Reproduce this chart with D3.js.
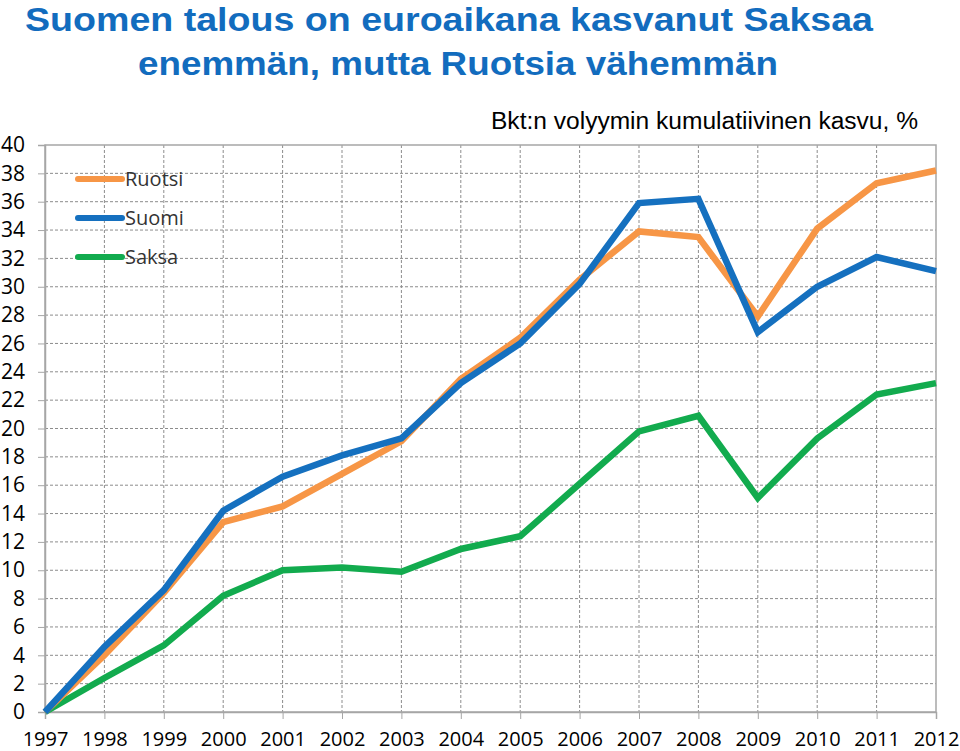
<!DOCTYPE html>
<html lang="fi">
<head>
<meta charset="utf-8">
<title>Bkt:n volyymin kumulatiivinen kasvu</title>
<script src="https://d3js.org/d3.v7.min.js"></script>
<style>
    body { margin: 0; background: #fff; }
</style>
</head>
<body>
<div id="chart"></div>
<script>
var years = [1997, 1998, 1999, 2000, 2001, 2002, 2003, 2004, 2005, 2006, 2007, 2008, 2009, 2010, 2011, 2012];
var ruotsi = [0, 4.0, 8.4, 13.4, 14.5, 16.8, 19.1, 23.5, 26.4, 30.5, 33.9, 33.5, 27.9, 34.1, 37.3, 38.2];
var suomi = [0, 4.6, 8.6, 14.2, 16.6, 18.1, 19.3, 23.2, 26.0, 30.2, 35.9, 36.2, 26.8, 30.0, 32.1, 31.1];
var saksa = [0, 2.4, 4.7, 8.2, 10.0, 10.2, 9.9, 11.5, 12.4, 16.1, 19.8, 20.9, 15.1, 19.3, 22.4, 23.2];
var yTicks = d3.range(0, 41, 2);

var seriesNames = ["Ruotsi", "Suomi", "Saksa"];
var seriesColors = ["#F79646", "#1570BF", "#12AB4E"];
var seriesData = [ruotsi, suomi, saksa];

var width = 960, height = 751;
var margin = {top: 145, right: 24, bottom: 39, left: 45};
var w = width - margin.left - margin.right,
    h = height - margin.top - margin.bottom;

var svg = d3.select("#chart")
    .append("svg")
    .attr("width", width)
    .attr("height", height);

// title, two lines stretched to the width they have in the original
var title = svg.append("g")
    .attr("fill", "#126CBE")
    .style("font-family", "'Liberation Sans', Arial, sans-serif")
    .style("font-weight", "bold")
    .style("font-size", "34px");
title.append("text")
    .attr("x", 25).attr("y", 31)
    .attr("textLength", 848)
    .attr("lengthAdjust", "spacingAndGlyphs")
    .text("Suomen talous on euroaikana kasvanut Saksaa");
title.append("text")
    .attr("x", 138).attr("y", 75)
    .attr("textLength", 640)
    .attr("lengthAdjust", "spacingAndGlyphs")
    .text("enemmän, mutta Ruotsia vähemmän");

svg.append("text")
    .attr("x", 491)
    .attr("y", 129)
    .attr("textLength", 427)
    .attr("lengthAdjust", "spacingAndGlyphs")
    .attr("fill", "#000")
    .style("font-family", "'Liberation Sans', Arial, sans-serif")
    .style("font-size", "23px")
    .text("Bkt:n volyymin kumulatiivinen kasvu, %");

var g = svg.append("g")
    .attr("transform", "translate(" + margin.left + "," + margin.top + ")");

var x = d3.scalePoint()
    .domain(years)
    .range([0, w]);

var y = d3.scaleLinear()
    .domain([0, 40])
    .range([h, 0]);

// gridlines
g.append("g")
    .selectAll("line")
    .data(yTicks.filter(function(d) { return d > 0 && d < 40; }))
    .enter()
    .append("line")
    .attr("x1", 0)
    .attr("x2", w)
    .attr("y1", function(d) { return y(d); })
    .attr("y2", function(d) { return y(d); })
    .attr("stroke", "#8c8c8c")
    .attr("stroke-dasharray", "3,2");

g.append("g")
    .selectAll("line")
    .data(years.slice(1, -1))
    .enter()
    .append("line")
    .attr("x1", function(d) { return x(d); })
    .attr("x2", function(d) { return x(d); })
    .attr("y1", 0)
    .attr("y2", h)
    .attr("stroke", "#8c8c8c")
    .attr("stroke-dasharray", "3,2");

// frame
g.append("rect")
    .attr("width", w)
    .attr("height", h)
    .attr("fill", "none")
    .attr("stroke", "#a6a6a6")
    .attr("stroke-width", 1.5);

// axes
var yAxis = g.append("g")
    .call(d3.axisLeft(y).tickValues(yTicks).tickSize(7).tickPadding(13));
var xAxis = g.append("g")
    .attr("transform", "translate(0," + h + ")")
    .call(d3.axisBottom(x).tickSize(7).tickPadding(13));

[yAxis, xAxis].forEach(function(a) {
    a.select(".domain").attr("stroke", "#a6a6a6").attr("stroke-width", 1.5);
    a.selectAll(".tick line").attr("stroke", "#a6a6a6");
    a.selectAll("text")
        .attr("fill", "#000")
        .style("font-family", "'Open Sans', sans-serif")
        .style("font-size", "20px");
});
yAxis.selectAll("text").style("font-size", "21px");

// lines
var line = d3.line()
    .x(function(d, i) { return x(years[i]); })
    .y(function(d) { return y(d); });

// Saksa first, then Ruotsi, Suomi on top
[2, 0, 1].forEach(function(k) {
    g.append("path")
        .datum(seriesData[k])
        .attr("fill", "none")
        .attr("stroke", seriesColors[k])
        .attr("stroke-width", 6.5)
        .attr("stroke-linejoin", "miter")
        .attr("d", line);
});

// legend
var legend = svg.append("g")
    .attr("transform", "translate(78,179)");
seriesNames.forEach(function(name, i) {
    var row = legend.append("g").attr("transform", "translate(0," + (i * 39) + ")");
    row.append("line")
        .attr("x1", 0).attr("x2", 44)
        .attr("stroke", seriesColors[i])
        .attr("stroke-width", 6)
        .attr("stroke-linecap", "round");
    row.append("text")
        .attr("x", 47)
        .attr("y", 7)
        .attr("fill", "#333")
        .style("font-family", "'Open Sans', sans-serif")
        .style("font-size", "20px")
        .text(name);
});
</script>
</body>
</html>
